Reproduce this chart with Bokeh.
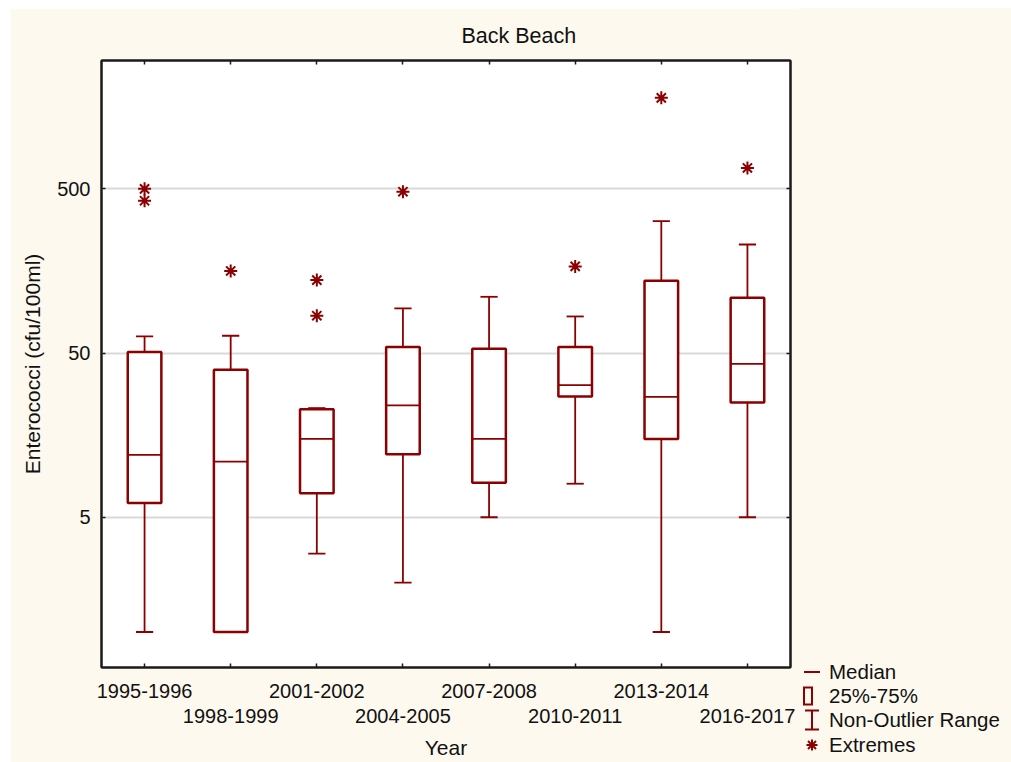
import numpy as np
from bokeh.plotting import figure
from bokeh.layouts import row, column
from bokeh.models import (ColumnDataSource, Range1d, LinearAxis, LogAxis, FixedTicker,
                          Spacer, Div)
from bokeh.embed import file_html
from bokeh.resources import INLINE

# ---------------- data ----------------
years = ["1995-1996", "1998-1999", "2001-2002", "2004-2005",
         "2007-2008", "2010-2011", "2013-2014", "2016-2017"]
whisker_low = [1.0, 1.0, 3.0, 2.0, 5.0, 8.0, 1.0, 5.0]
q1 = [6.1, 1.0, 7.0, 12.1, 8.1, 27.2, 15.0, 25.0]
median = [12.0, 10.9, 15.0, 24.0, 15.0, 31.9, 27.0, 42.9]
q3 = [50.7, 39.6, 22.7, 54.4, 53.1, 54.4, 138.0, 108.6]
whisker_high = [63.1, 63.7, 23.1, 93.5, 110.0, 83.5, 318.0, 229.0]
extreme_year = ["1995-1996", "1995-1996", "1998-1999", "2001-2002", "2001-2002",
                "2004-2005", "2010-2011", "2013-2014", "2016-2017"]
extreme_value = [500.0, 423.0, 158.0, 139.0, 84.4, 480.0, 168.5, 1790.0, 670.0]
y_ticks = [5, 50, 500]
legend_labels = ["Median", "25%-75%", "Non-Outlier Range", "Extremes"]

# ---------------- styling ----------------
RED = "#8b0000"
CREAM = "#fdf9ef"
FONT = "Liberation Sans"
TXT = "#111111"
BOX_W = 0.39
CAP_W = 0.2

pos = list(range(1, len(years) + 1))
src = ColumnDataSource(dict(
    x=pos, lo=whisker_low, q1=q1, med=median, q3=q3, hi=whisker_high,
    xl=[x - BOX_W / 2 for x in pos], xr=[x + BOX_W / 2 for x in pos],
    cl=[x - CAP_W / 2 for x in pos], cr=[x + CAP_W / 2 for x in pos],
))
ext_src = ColumnDataSource(dict(
    x=[pos[years.index(y)] for y in extreme_year], y=extreme_value))

p = figure(width=788, height=754,
           x_range=Range1d(0.5, len(years) + 0.5), y_range=Range1d(0.608, 3023),
           y_axis_type="log", x_axis_location=None,
           output_backend="svg", toolbar_location=None,
           min_border_left=91, min_border_right=8, min_border_top=52, min_border_bottom=95,
           border_fill_color=CREAM, background_fill_color="white",
           outline_line_color="#1a1a1a", outline_line_width=2)

# title
p.title.text = "Back Beach"
p.title.align = "left"
p.title.offset = 360
p.title.standoff = 26
p.title.text_font = FONT
p.title.text_font_size = "21.5px"
p.title.text_font_style = "normal"
p.title.text_color = TXT

# grid
p.xgrid.visible = False
p.ygrid.ticker = FixedTicker(ticks=y_ticks)
p.ygrid.grid_line_color = "#d9d9d9"
p.ygrid.grid_line_width = 2

def style_axis(ax):
    ax.axis_line_color = "#1a1a1a"
    ax.axis_line_width = 2
    ax.major_tick_line_color = "#1a1a1a"
    ax.major_tick_line_width = 1.5
    ax.major_tick_in = 4
    ax.major_tick_out = 0
    ax.minor_tick_line_color = None
    ax.major_label_text_font = FONT
    ax.major_label_text_font_size = "20px"
    ax.major_label_text_color = TXT
    ax.axis_label_text_font = FONT
    ax.axis_label_text_font_size = "21px"
    ax.axis_label_text_font_style = "normal"
    ax.axis_label_text_color = TXT

# left axis
ly = p.yaxis[0]
style_axis(ly)
ly.ticker = FixedTicker(ticks=y_ticks)
ly.major_label_overrides = {t: str(t) for t in y_ticks}
ly.major_label_standoff = 11
ly.axis_label = "Enterococci (cfu/100ml)"
ly.axis_label_standoff = 10

# right axis (ticks only)
ry = LogAxis(ticker=FixedTicker(ticks=y_ticks),
             major_label_overrides={t: "" for t in y_ticks})
style_axis(ry)
ry.major_label_text_font_size = "1px"
ry.major_label_standoff = 0
p.add_layout(ry, "right")

# top axis (ticks only)
tx = LinearAxis(ticker=FixedTicker(ticks=pos),
                major_label_overrides={x: "" for x in pos})
style_axis(tx)
tx.major_label_text_font_size = "1px"
tx.major_label_standoff = 0
p.add_layout(tx, "above")

# bottom axes: staggered labels
bx1 = LinearAxis(ticker=FixedTicker(ticks=pos),
                 major_label_overrides={x: (y if i % 2 == 0 else "") for i, (x, y) in enumerate(zip(pos, years))})
style_axis(bx1)
bx1.major_label_standoff = 16
p.add_layout(bx1, "below")

bx2 = LinearAxis(ticker=FixedTicker(ticks=pos),
                 major_label_overrides={x: (y if i % 2 == 1 else "") for i, (x, y) in enumerate(zip(pos, years))})
style_axis(bx2)
bx2.axis_line_color = None
bx2.major_tick_line_color = None
bx2.major_tick_in = 0
bx2.major_label_standoff = 8
bx2.axis_label = "Year"
bx2.axis_label_standoff = 10
p.add_layout(bx2, "below")

# ---------------- boxes ----------------
p.segment(x0="x", y0="lo", x1="x", y1="q1", source=src, line_color=RED, line_width=1.8)
p.segment(x0="x", y0="q3", x1="x", y1="hi", source=src, line_color=RED, line_width=1.8)
p.segment(x0="cl", y0="lo", x1="cr", y1="lo", source=src, line_color=RED, line_width=1.8)
p.segment(x0="cl", y0="hi", x1="cr", y1="hi", source=src, line_color=RED, line_width=1.8)
p.vbar(x="x", bottom="q1", top="q3", width=BOX_W, source=src,
       fill_color="white", line_color=RED, line_width=2.5)
p.segment(x0="xl", y0="med", x1="xr", y1="med", source=src, line_color=RED, line_width=1.8)
p.scatter(x="x", y="y", source=ext_src, marker="asterisk", size=13,
          line_color=RED, line_width=2)

# ---------------- legend panel (bottom right, outside the plot frame) ----------------
LW, LH = 213, 754
GX = 14          # glyph centre x inside the legend panel
TX = 31          # label left x
rows_y = [664, 688, 712, 737]   # row centres (panel px)

def text(y, s):
    return (f'<text x="{TX}" y="{y + 7.3}" font-family="{FONT}" font-size="20.5px" '
            f'fill="{TXT}">{s}</text>')

y0, y1, y2, y3 = rows_y
r = 5.5
d = 4.0
svg_parts = [
    f'<svg xmlns="http://www.w3.org/2000/svg" width="{LW}" height="{LH}" style="display:block">',
    f'<g stroke="{RED}" stroke-width="2" fill="none">',
    # median
    f'<line x1="{GX - 8}" y1="{y0}" x2="{GX + 8}" y2="{y0}"/>',
    # 25%-75% box
    f'<rect x="{GX - 8}" y="{y1 - 8.5}" width="8" height="17"/>',
    # non-outlier range (I-beam)
    f'<line x1="{GX - 7}" y1="{y2 - 9.5}" x2="{GX + 7}" y2="{y2 - 9.5}"/>',
    f'<line x1="{GX - 7}" y1="{y2 + 9.5}" x2="{GX + 7}" y2="{y2 + 9.5}"/>',
    f'<line x1="{GX}" y1="{y2 - 9.5}" x2="{GX}" y2="{y2 + 9.5}"/>',
    # extremes (asterisk)
    f'<line x1="{GX}" y1="{y3 - r}" x2="{GX}" y2="{y3 + r}"/>',
    f'<line x1="{GX - r}" y1="{y3}" x2="{GX + r}" y2="{y3}"/>',
    f'<line x1="{GX - d}" y1="{y3 - d}" x2="{GX + d}" y2="{y3 + d}"/>',
    f'<line x1="{GX - d}" y1="{y3 + d}" x2="{GX + d}" y2="{y3 - d}"/>',
    '</g>',
]
for yy, lab in zip(rows_y, legend_labels):
    svg_parts.append(text(yy, lab))
svg_parts.append('</svg>')

legend_div = Div(text="".join(svg_parts), width=LW, height=LH, margin=0,
                 styles={"background-color": CREAM, "padding": "0", "overflow": "hidden"})

layout = column(Spacer(width=1011, height=8),
                row(Spacer(width=10, height=754), p, legend_div))

open("out.html", "w").write(file_html(layout, INLINE))
